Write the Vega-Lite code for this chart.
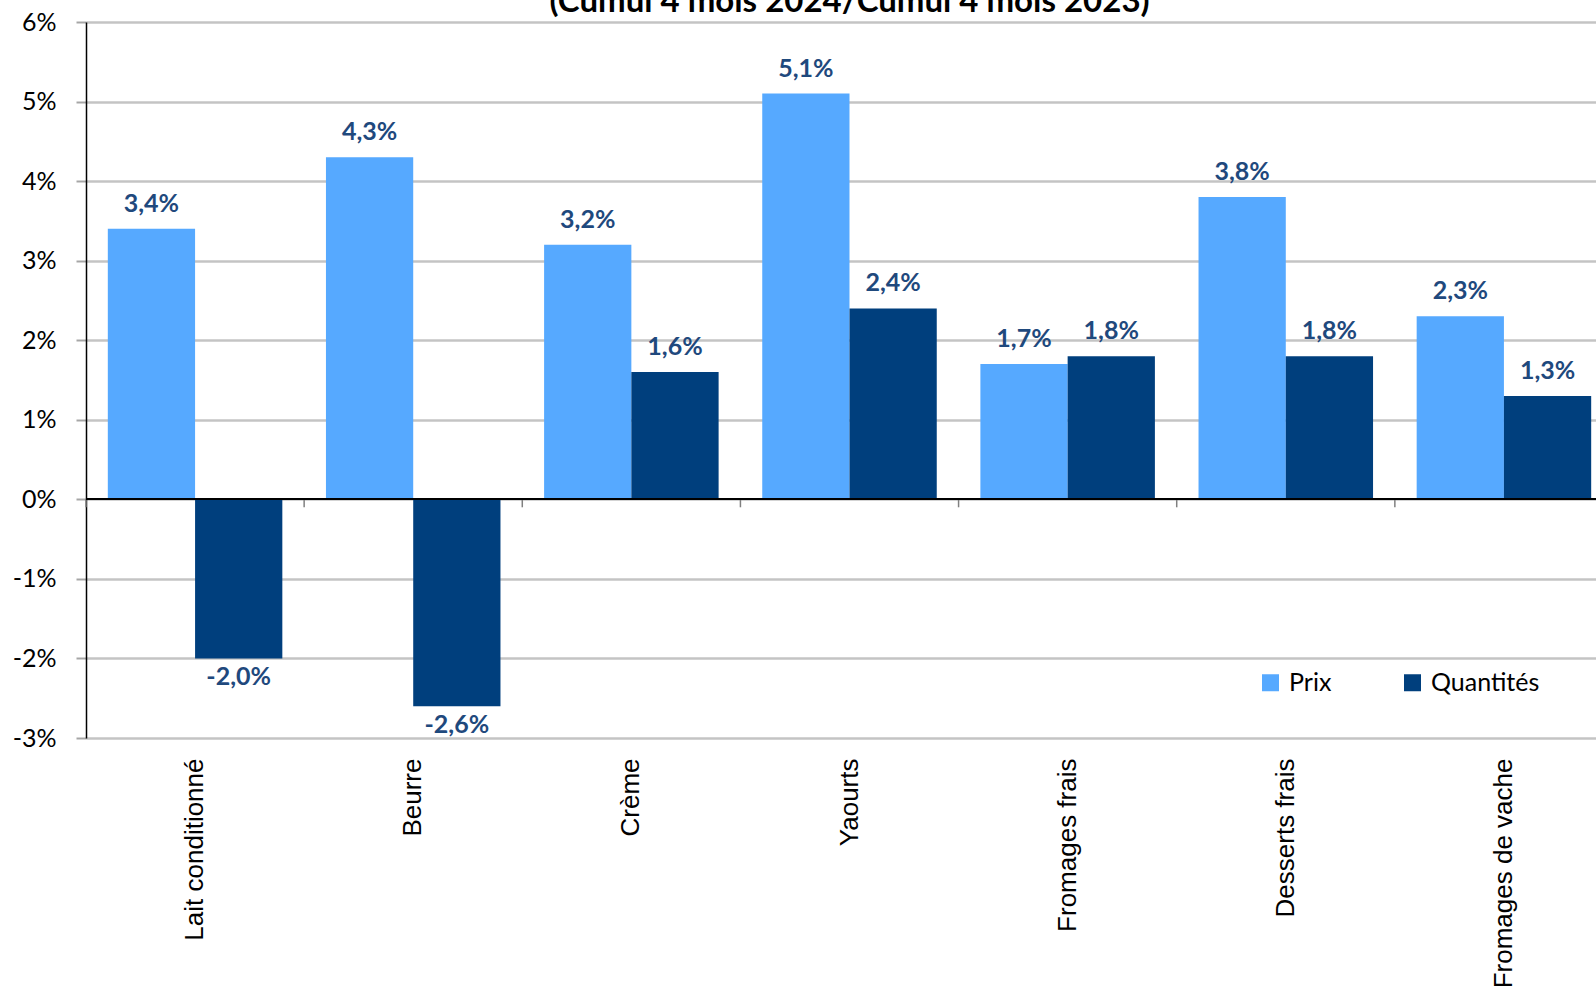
{
  "$schema": "https://vega.github.io/schema/vega-lite/v6.json",
  "autosize": {"type": "none"},
  "padding": {"left": 86, "top": 22, "right": 0, "bottom": 263},
  "width": 1527,
  "height": 716,
  "title": {
    "text": "(Cumul 4 mois 2024/Cumul 4 mois 2023)",
    "font": "Lato",
    "fontSize": 33,
    "fontWeight": "bold",
    "color": "#000000",
    "anchor": "middle",
    "baseline": "top",
    "offset": -9
  },
  "data": {
    "values": [
      {"produit": "Lait conditionné", "serie": "Prix", "valeur": 0.034},
      {"produit": "Lait conditionné", "serie": "Quantités", "valeur": -0.020},
      {"produit": "Beurre", "serie": "Prix", "valeur": 0.043},
      {"produit": "Beurre", "serie": "Quantités", "valeur": -0.026},
      {"produit": "Crème", "serie": "Prix", "valeur": 0.032},
      {"produit": "Crème", "serie": "Quantités", "valeur": 0.016},
      {"produit": "Yaourts", "serie": "Prix", "valeur": 0.051},
      {"produit": "Yaourts", "serie": "Quantités", "valeur": 0.024},
      {"produit": "Fromages frais", "serie": "Prix", "valeur": 0.017},
      {"produit": "Fromages frais", "serie": "Quantités", "valeur": 0.018},
      {"produit": "Desserts frais", "serie": "Prix", "valeur": 0.038},
      {"produit": "Desserts frais", "serie": "Quantités", "valeur": 0.018},
      {"produit": "Fromages de vache", "serie": "Prix", "valeur": 0.023},
      {"produit": "Fromages de vache", "serie": "Quantités", "valeur": 0.013}
    ]
  },
  "encoding": {
    "x": {
      "field": "produit",
      "type": "nominal",
      "sort": null,
      "scale": {"paddingInner": 0.2, "paddingOuter": 0.1},
      "axis": {
        "orient": "bottom",
        "title": null,
        "labelAngle": -90,
        "labelFont": "Liberation Sans",
        "labelFontSize": 26,
        "labelColor": "#000000",
        "labelPadding": 20,
        "labelLimit": 400,
        "domain": false,
        "ticks": false,
        "grid": false
      }
    },
    "y": {
      "field": "valeur",
      "type": "quantitative",
      "scale": {"domain": [-0.03, 0.06], "nice": false, "zero": false},
      "axis": {
        "title": null,
        "format": ".0%",
        "values": [-0.03, -0.02, -0.01, 0, 0.01, 0.02, 0.03, 0.04, 0.05, 0.06],
        "labelFont": "Lato",
        "labelFontSize": 25,
        "labelColor": "#000000",
        "labelPadding": 20,
        "domain": true,
        "domainColor": "#000000",
        "domainWidth": 1.5,
        "ticks": true,
        "tickSize": 10,
        "tickColor": "#a6a6a6",
        "tickWidth": 2,
        "grid": true,
        "gridColor": "#c4c4c4",
        "gridWidth": 2.5
      }
    }
  },
  "layer": [
    {
      "mark": {"type": "bar"},
      "encoding": {
        "xOffset": {"field": "serie", "type": "nominal", "sort": ["Prix", "Quantités"]},
        "color": {
          "field": "serie",
          "type": "nominal",
          "scale": {"domain": ["Prix", "Quantités"], "range": ["#56a9ff", "#003f7d"]},
          "legend": {
            "title": null,
            "orient": "none",
            "direction": "horizontal",
            "legendX": 1172,
            "legendY": 648,
            "symbolType": "square",
            "symbolSize": 289,
            "symbolStrokeWidth": 0,
            "labelFont": "Lato",
            "labelFontSize": 25,
            "labelColor": "#000000",
            "labelOffset": 6,
            "columnPadding": 68
          }
        }
      }
    },
    {
      "transform": [{"filter": "datum.valeur >= 0"}],
      "mark": {
        "type": "text",
        "baseline": "bottom",
        "dy": -12,
        "font": "Lato",
        "fontSize": 25,
        "fontWeight": "bold",
        "color": "#1f497d"
      },
      "encoding": {
        "xOffset": {"field": "serie", "type": "nominal", "sort": ["Prix", "Quantités"]},
        "text": {"field": "valeur", "type": "quantitative", "format": ".1%"}
      }
    },
    {
      "transform": [{"filter": "datum.valeur < 0"}],
      "mark": {
        "type": "text",
        "baseline": "top",
        "dy": 7,
        "font": "Lato",
        "fontSize": 25,
        "fontWeight": "bold",
        "color": "#1f497d"
      },
      "encoding": {
        "xOffset": {"field": "serie", "type": "nominal", "sort": ["Prix", "Quantités"]},
        "text": {"field": "valeur", "type": "quantitative", "format": ".1%"}
      }
    },
    {
      "transform": [{"filter": "datum.serie == 'Prix'"}],
      "mark": {"type": "rule", "color": "#808080", "strokeWidth": 1.5},
      "encoding": {
        "x": {"field": "produit", "type": "nominal", "sort": null, "bandPosition": -0.125},
        "y": {"datum": 0},
        "y2": {"datum": -0.001}
      }
    },
    {
      "mark": {"type": "rule", "color": "#000000", "strokeWidth": 1.5},
      "encoding": {
        "x": null,
        "y": {"datum": 0}
      }
    }
  ],
  "config": {
    "view": {"stroke": null},
    "locale": {
      "number": {
        "decimal": ",",
        "thousands": " ",
        "grouping": [3],
        "currency": ["", " €"],
        "minus": "-"
      }
    }
  }
}
